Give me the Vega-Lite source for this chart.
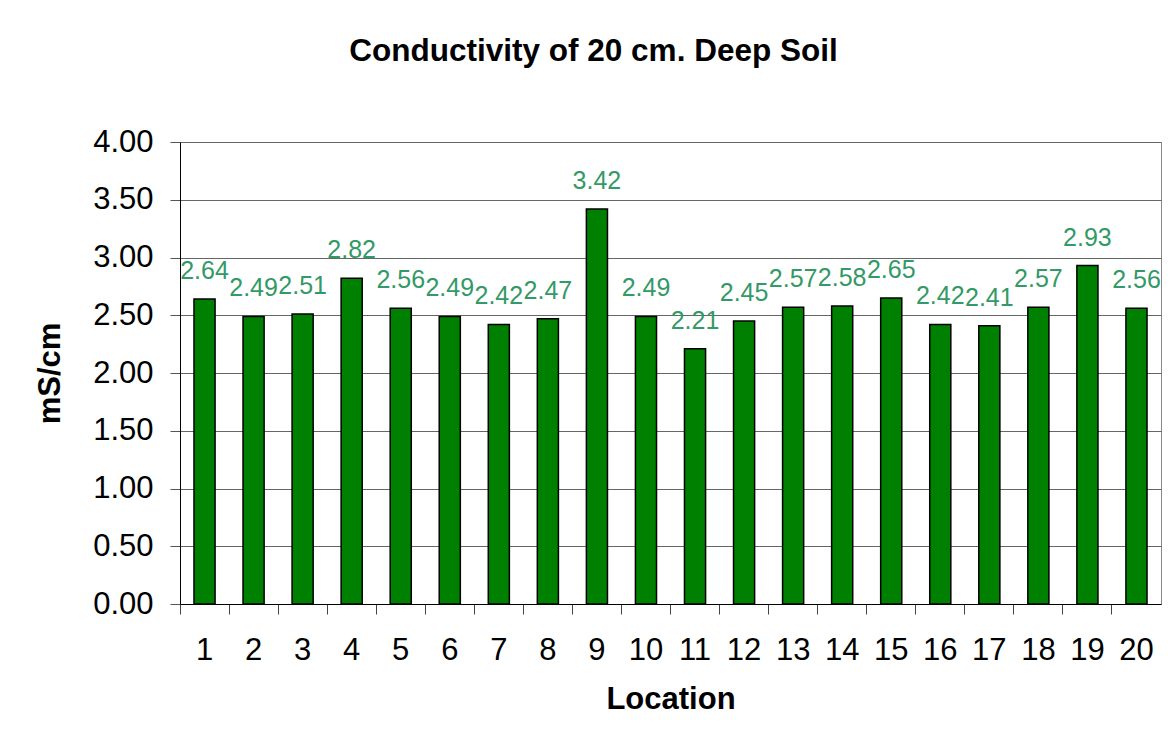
{
  "$schema": "https://vega.github.io/schema/vega-lite/v6.json",
  "autosize": "none",
  "width": 981,
  "height": 462,
  "padding": {"left": 180, "top": 142, "right": 11, "bottom": 147},
  "background": "white",
  "config": {
    "font": "Liberation Sans",
    "view": {"stroke": "#888888", "strokeWidth": 1}
  },
  "title": {
    "text": "Conductivity of 20 cm. Deep Soil",
    "font": "Liberation Sans",
    "fontSize": 31.5,
    "fontWeight": "bold",
    "color": "black",
    "anchor": "middle",
    "frame": "group",
    "dx": -77,
    "offset": 59
  },
  "data": {
    "values": [
      {"Location": "1", "value": 2.64},
      {"Location": "2", "value": 2.49},
      {"Location": "3", "value": 2.51},
      {"Location": "4", "value": 2.82},
      {"Location": "5", "value": 2.56},
      {"Location": "6", "value": 2.49},
      {"Location": "7", "value": 2.42},
      {"Location": "8", "value": 2.47},
      {"Location": "9", "value": 3.42},
      {"Location": "10", "value": 2.49},
      {"Location": "11", "value": 2.21},
      {"Location": "12", "value": 2.45},
      {"Location": "13", "value": 2.57},
      {"Location": "14", "value": 2.58},
      {"Location": "15", "value": 2.65},
      {"Location": "16", "value": 2.42},
      {"Location": "17", "value": 2.41},
      {"Location": "18", "value": 2.57},
      {"Location": "19", "value": 2.93},
      {"Location": "20", "value": 2.56}
    ]
  },
  "encoding": {
    "x": {
      "field": "Location",
      "type": "ordinal",
      "sort": null,
      "scale": {"paddingInner": 0, "paddingOuter": 0},
      "axis": {
        "title": "Location",
        "titleFontSize": 31,
        "titleFontWeight": "bold",
        "titleColor": "black",
        "titlePadding": 19,
        "labelFontSize": 31,
        "labelColor": "black",
        "labelAngle": 0,
        "labelPadding": 21,
        "bandPosition": 0,
        "tickSize": 10,
        "tickColor": "#444444",
        "domainColor": "black",
        "domainWidth": 1,
        "grid": false
      }
    },
    "y": {
      "field": "value",
      "type": "quantitative",
      "scale": {"domain": [0, 4], "nice": false},
      "axis": {
        "title": "mS/cm",
        "titleFontSize": 31,
        "titleFontWeight": "bold",
        "titleColor": "black",
        "titlePadding": 26,
        "values": [0, 0.5, 1, 1.5, 2, 2.5, 3, 3.5, 4],
        "format": ".2f",
        "labelFontSize": 31,
        "labelColor": "black",
        "labelPadding": 17,
        "tickSize": 10,
        "tickColor": "#555555",
        "domainColor": "black",
        "grid": true,
        "gridColor": "#666666",
        "gridWidth": 1
      }
    }
  },
  "layer": [
    {
      "mark": {
        "type": "bar",
        "width": {"band": 0.43},
        "fill": "#008000",
        "stroke": "black",
        "strokeWidth": 1.5
      }
    },
    {
      "mark": {
        "type": "text",
        "baseline": "alphabetic",
        "align": "center",
        "dy": -20,
        "fontSize": 25,
        "color": "#339966"
      },
      "encoding": {
        "text": {"field": "value", "type": "quantitative", "format": ".2f"}
      }
    }
  ]
}
